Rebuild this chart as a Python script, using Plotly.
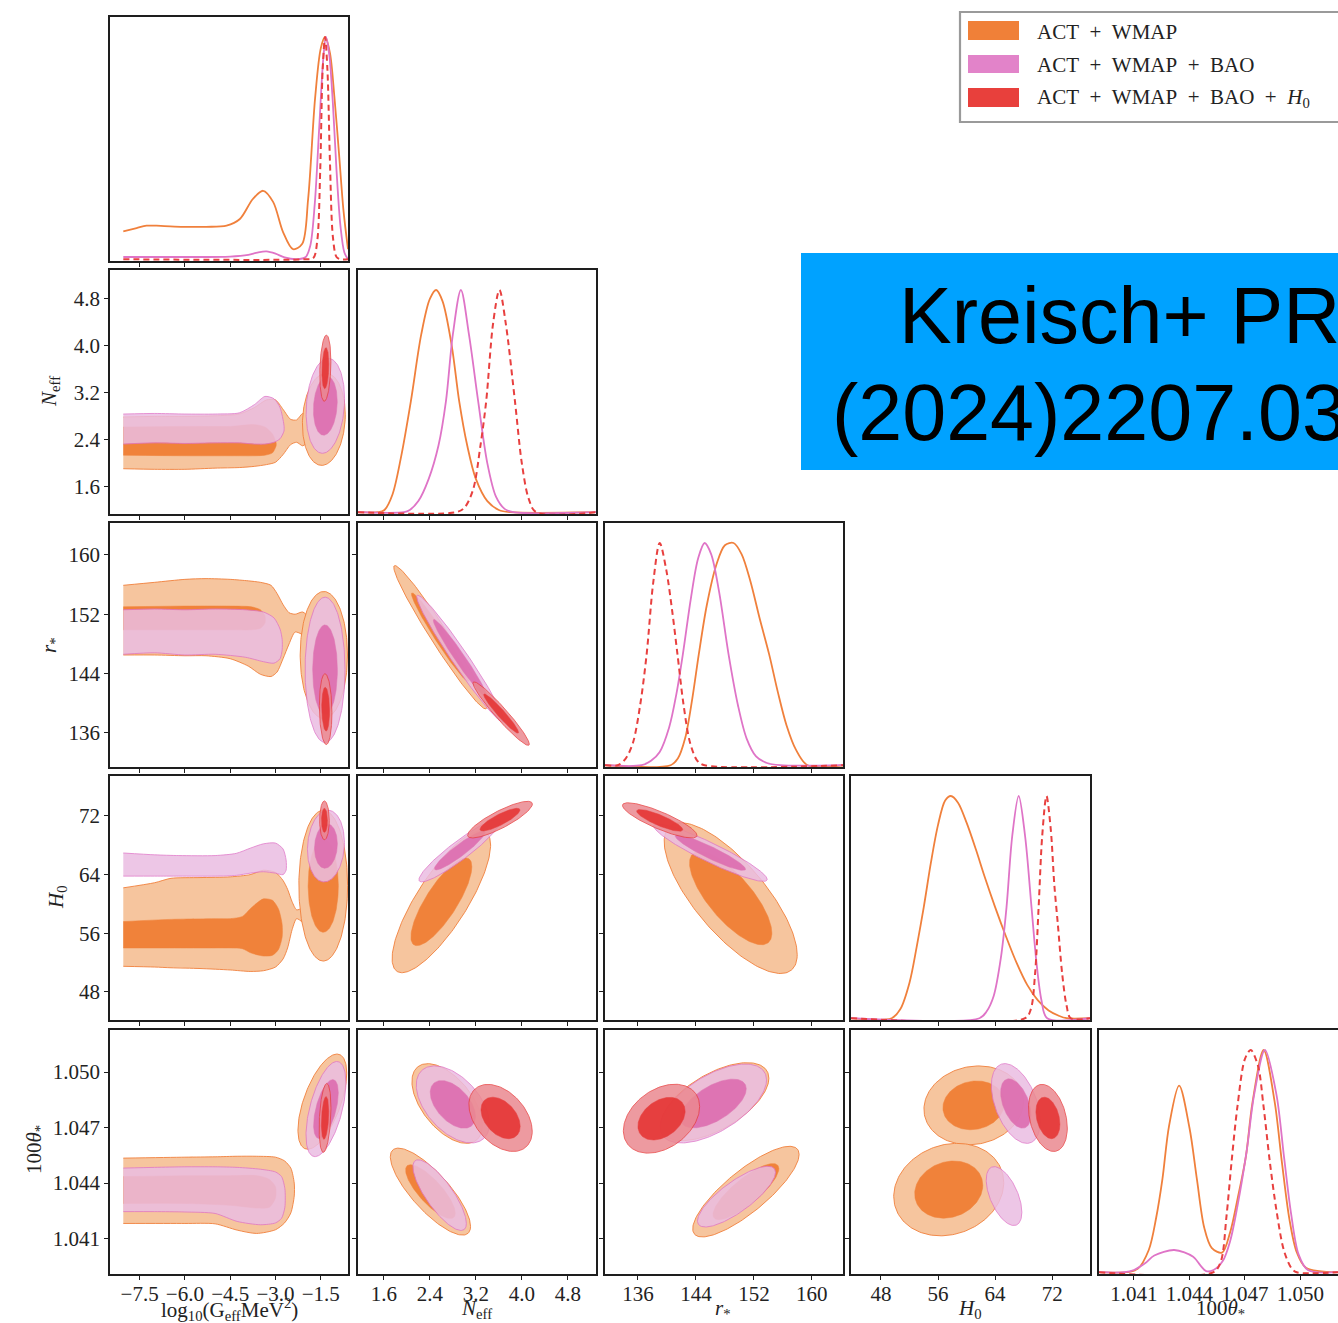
import numpy as np
import plotly.graph_objects as go

# ====================== DATA ======================
# tick values / labels
lgG_ticks = [-7.5, -6.0, -4.5, -3.0, -1.5]
lgG_ticklabels = ['\u22127.5', '\u22126.0', '\u22124.5', '\u22123.0', '\u22121.5']
neff_ticks = [1.6, 2.4, 3.2, 4.0, 4.8]
neff_ticklabels = ['1.6', '2.4', '3.2', '4.0', '4.8']
rs_ticks = [136, 144, 152, 160]
rs_ticklabels = ['136', '144', '152', '160']
h0_ticks = [48, 56, 64, 72]
h0_ticklabels = ['48', '56', '64', '72']
th_ticks = [1.041, 1.044, 1.047, 1.050]
th_ticklabels = ['1.041', '1.044', '1.047', '1.050']

series_names = ['ACT\u2002+\u2002WMAP', 'ACT\u2002+\u2002WMAP\u2002+\u2002BAO',
                'ACT\u2002+\u2002WMAP\u2002+\u2002BAO\u2002+\u2002<i>H</i><sub>0</sub>']

# ---- 1D marginal posteriors (normalised to peak = 1) ----
lgG_x_orange = [-8.04, -7.6, -7.27, -6.8, -6.06, -5.3, -4.62, -4.18, -3.75, -3.41, -3.08, -2.75, -2.42,
                -2.12, -1.92, -1.69, -1.5, -1.36, -1.2, -1.05, -0.9, -0.75, -0.6]
lgG_y_orange = [0.125, 0.14, 0.151, 0.15, 0.146, 0.146, 0.151, 0.181, 0.271, 0.308, 0.258, 0.122, 0.045,
                0.068, 0.271, 0.724, 0.95, 1.0, 0.93, 0.73, 0.48, 0.22, 0.045]
lgG_x_pink = [-8.04, -6.0, -4.5, -3.9, -3.6, -3.3, -3.0, -2.7, -2.3, -2.0, -1.85, -1.7, -1.55, -1.42,
              -1.33, -1.22, -1.1, -0.98, -0.85, -0.72, -0.6]
lgG_y_pink = [0.01, 0.01, 0.012, 0.02, 0.03, 0.035, 0.025, 0.008, 0.0, 0.01, 0.06, 0.25, 0.6, 0.9,
              1.0, 0.92, 0.7, 0.4, 0.15, 0.03, 0.0]
lgG_x_red = [-8.04, -2.0, -1.75, -1.62, -1.52, -1.44, -1.36, -1.28, -1.2, -1.1, -0.98, -0.85, -0.6]
lgG_y_red = [0, 0, 0.005, 0.08, 0.4, 0.85, 1.0, 0.85, 0.45, 0.1, 0.01, 0, 0]

neff_x_orange = [1.15, 1.5, 1.61, 1.75, 1.9, 2.07, 2.25, 2.4, 2.51, 2.62, 2.78, 2.91, 3.05, 3.2, 3.4, 3.6, 3.8, 5.29]
neff_y_orange = [0, 0, 0.01, 0.08, 0.25, 0.5, 0.8, 0.96, 1.0, 0.95, 0.75, 0.5, 0.3, 0.15, 0.05, 0.01, 0, 0]
neff_x_pink = [1.15, 1.95, 2.05, 2.2, 2.38, 2.55, 2.68, 2.8, 2.94, 3.08, 3.24, 3.4, 3.55, 3.7, 3.85, 5.29]
neff_y_pink = [0, 0, 0.01, 0.05, 0.15, 0.3, 0.5, 0.8, 1.0, 0.8, 0.5, 0.22, 0.07, 0.015, 0, 0]
neff_x_red = [1.15, 2.85, 3.0, 3.15, 3.28, 3.38, 3.5, 3.61, 3.72, 3.88, 4.0, 4.12, 4.25, 5.29]
neff_y_red = [0, 0, 0.02, 0.1, 0.3, 0.5, 0.85, 1.0, 0.85, 0.5, 0.22, 0.06, 0, 0]

rs_x_orange = [131.45, 140.5, 141.5, 142.5, 143.5, 144.4, 145.5, 146.8, 148.0, 149.2, 150.3, 151.5, 152.8,
               154.1, 155.3, 156.5, 157.8, 159.4, 164.3]
rs_y_orange = [0, 0, 0.03, 0.12, 0.3, 0.5, 0.72, 0.9, 0.99, 1.0, 0.95, 0.83, 0.66, 0.5, 0.33, 0.18, 0.07, 0.0, 0]
rs_x_pink = [131.45, 136.5, 137.8, 139.0, 140.3, 141.3, 142.2, 143.3, 144.3, 145.2, 146.1, 147.2, 148.5,
             149.8, 151.0, 152.3, 153.8, 155.6, 164.3]
rs_y_pink = [0, 0, 0.02, 0.06, 0.17, 0.32, 0.5, 0.75, 0.93, 1.0, 0.95, 0.78, 0.5, 0.27, 0.12, 0.04, 0.01, 0, 0]
rs_x_red = [131.45, 133.2, 134.3, 135.3, 136.3, 137.2, 138.1, 139.0, 139.9, 140.7, 141.45, 142.3, 143.2,
            144.2, 145.2, 164.3]
rs_y_red = [0, 0, 0.03, 0.1, 0.27, 0.5, 0.82, 1.0, 0.88, 0.7, 0.5, 0.27, 0.1, 0.02, 0, 0]

h0_x_orange = [43.8, 49.5, 50.7, 52.0, 53.0, 54.0, 55.0, 56.0, 57.0, 57.8, 58.8, 60.0, 61.3, 62.5, 64.0,
               65.5, 67.0, 68.5, 70.0, 71.5, 73.0, 74.0, 77.3]
h0_y_orange = [0, 0, 0.04, 0.16, 0.32, 0.5, 0.7, 0.87, 0.98, 1.0, 0.97, 0.88, 0.76, 0.64, 0.5,
               0.37, 0.25, 0.15, 0.08, 0.035, 0.01, 0, 0]
h0_x_pink = [43.8, 61.8, 62.8, 63.8, 64.8, 65.6, 66.4, 67.3, 68.2, 69.1, 69.8, 70.5, 71.3, 77.3]
h0_y_pink = [0, 0, 0.03, 0.1, 0.27, 0.5, 0.82, 1.0, 0.82, 0.5, 0.25, 0.08, 0, 0]
h0_x_red = [43.8, 68.2, 69.0, 69.6, 70.1, 70.6, 71.2, 71.8, 72.3, 72.8, 73.4, 74.0, 74.6, 77.3]
h0_y_red = [0, 0, 0.04, 0.2, 0.5, 0.82, 1.0, 0.85, 0.6, 0.42, 0.2, 0.06, 0, 0]

th_x_orange = [1.03911, 1.0406, 1.0412, 1.0418, 1.0422, 1.04254, 1.0429, 1.04344, 1.0440, 1.0444, 1.0448,
               1.0452, 1.04576, 1.0462, 1.0466, 1.04705, 1.0474, 1.04801, 1.0486, 1.04899, 1.0494,
               1.0498, 1.0503, 1.05203]
th_y_orange = [0, 0, 0.015, 0.1, 0.245, 0.42, 0.66, 0.84, 0.65, 0.42, 0.2, 0.11, 0.088, 0.18, 0.33,
               0.52, 0.76, 1.0, 0.77, 0.5, 0.24, 0.09, 0.02, 0]
th_x_pink = [1.03911, 1.0405, 1.0410, 1.0416, 1.0421, 1.04318, 1.0442, 1.0446, 1.0449, 1.0453, 1.0458,
             1.0462, 1.0466, 1.0471, 1.0475, 1.04808, 1.0487, 1.04911, 1.0495, 1.0499, 1.0504, 1.05203]
th_y_pink = [0, 0, 0.01, 0.04, 0.075, 0.10, 0.07, 0.03, 0.005, 0.01, 0.05, 0.14, 0.3, 0.55, 0.8,
             1.0, 0.8, 0.52, 0.26, 0.08, 0.01, 0]
th_x_red = [1.03911, 1.0453, 1.0457, 1.0460, 1.04628, 1.0466, 1.0470, 1.04731, 1.0477, 1.0480,
            1.04834, 1.0487, 1.0491, 1.0495, 1.0498, 1.05203]
th_y_red = [0, 0, 0.05, 0.25, 0.5, 0.75, 0.96, 1.0, 0.93, 0.75, 0.5, 0.28, 0.1, 0.02, 0, 0]

# ---- 2D posterior islands: (x centre, y centre, x sigma, y sigma, correlation, levels shown) ----
isl_lgG_neff_orange = [(-1.40, 2.75, 0.29, 0.32, 0.10, 1)]
isl_lgG_neff_pink = [(-1.35, 2.98, 0.26, 0.33, 0.15, 2)]
isl_lgG_neff_red = [(-1.35, 3.62, 0.075, 0.23, 0.20, 2)]
isl_lgG_rs_orange = [(-1.40, 146.5, 0.32, 3.5, 0.0, 1)]
isl_lgG_rs_pink = [(-1.36, 144.5, 0.27, 4.0, 0.0, 2)]
isl_lgG_rs_red = [(-1.34, 139.2, 0.085, 1.95, -0.1, 2)]
isl_lgG_h0_orange = [(-1.42, 62.5, 0.33, 4.2, 0.0, 2)]
isl_lgG_h0_pink = [(-1.33, 67.9, 0.25, 2.0, 0.1, 2)]
isl_lgG_h0_red = [(-1.38, 71.4, 0.065, 1.08, 0.0, 2)]
isl_lgG_th_orange = [(-1.45, 1.0484, 0.33, 0.00105, 0.6, 1)]
isl_lgG_th_pink = [(-1.33, 1.0480, 0.27, 0.00105, 0.55, 2)]
isl_lgG_th_red = [(-1.36, 1.04752, 0.08, 0.00076, 0.3, 2)]
isl_neff_rs_orange = [(2.58, 148.9, 0.33, 3.95, -0.975, 2)]
isl_neff_rs_pink = [(2.93, 146.0, 0.31, 3.5, -0.975, 2)]
isl_neff_rs_red = [(3.64, 138.6, 0.20, 1.75, -0.96, 2)]
isl_neff_h0_orange = [(2.60, 60.3, 0.35, 3.95, 0.80, 2)]
isl_neff_h0_pink = [(2.92, 67.3, 0.29, 1.75, 0.93, 2)]
isl_neff_h0_red = [(3.62, 71.5, 0.23, 1.02, 0.85, 2)]
isl_rs_h0_orange = [(148.8, 60.8, 3.75, 4.2, -0.75, 2)]
isl_rs_h0_pink = [(146.0, 67.0, 3.2, 1.6, -0.93, 2)]
isl_rs_h0_red = [(139.0, 71.4, 2.1, 0.98, -0.85, 2)]
isl_neff_th_orange = [(2.70, 1.0483, 0.25, 0.00088, -0.55, 1), (2.41, 1.04354, 0.285, 0.00096, -0.80, 2)]
isl_neff_th_pink = [(2.80, 1.04825, 0.26, 0.00085, -0.50, 2), (2.57, 1.04335, 0.19, 0.00078, -0.80, 1)]
isl_neff_th_red = [(3.63, 1.04752, 0.225, 0.00074, -0.40, 2)]
isl_rs_th_orange = [(146.6, 1.0484, 3.05, 0.00086, 0.6, 1), (150.9, 1.04354, 3.0, 0.0010, 0.82, 2)]
isl_rs_th_pink = [(146.4, 1.0483, 3.0, 0.00087, 0.6, 2), (149.6, 1.04327, 2.2, 0.00067, 0.8, 1)]
isl_rs_th_red = [(139.25, 1.04748, 2.15, 0.00076, 0.35, 2)]
isl_h0_th_orange = [(61.0, 1.0482, 2.85, 0.00087, 0.1, 2), (57.5, 1.04365, 3.15, 0.00102, 0.15, 2)]
isl_h0_th_pink = [(66.9, 1.0483, 1.4, 0.00088, -0.45, 2), (65.25, 1.0433, 1.02, 0.00065, -0.55, 1)]
isl_h0_th_red = [(71.4, 1.04752, 1.11, 0.00074, -0.3, 2)]

# ---- plateau (weakly-interacting mode) bands in log10 G_eff panels: stations, lower, upper ----
band_lgG_neff_o95_x = [-8.04, -7.0, -6.0, -5.0, -4.2, -3.7, -3.3, -3.0, -2.75, -2.5, -2.3, -2.1, -1.9]
band_lgG_neff_o95_lo = [1.91, 1.90, 1.90, 1.92, 1.93, 1.95, 1.98, 2.02, 2.15, 2.32, 2.36, 2.30, 2.40]
band_lgG_neff_o95_hi = [2.79, 2.80, 2.80, 2.81, 2.84, 2.95, 3.08, 3.08, 2.92, 2.75, 2.74, 2.85, 2.80]
band_lgG_neff_o68_x = [-8.04, -6.0, -4.5, -3.7, -3.35, -3.1, -2.98]
band_lgG_neff_o68_lo = [2.14, 2.13, 2.13, 2.13, 2.14, 2.18, 2.30]
band_lgG_neff_o68_hi = [2.62, 2.63, 2.63, 2.66, 2.62, 2.50, 2.35]
band_lgG_neff_p95_x = [-8.04, -7.0, -6.0, -5.0, -4.2, -3.7, -3.35, -3.05, -2.85, -2.72]
band_lgG_neff_p95_lo = [2.33, 2.35, 2.34, 2.35, 2.35, 2.33, 2.33, 2.36, 2.42, 2.55]
band_lgG_neff_p95_hi = [2.84, 2.85, 2.84, 2.84, 2.86, 3.00, 3.14, 3.10, 2.95, 2.65]

band_lgG_rs_o95_x = [-8.04, -7.0, -6.0, -5.3, -4.5, -3.9, -3.5, -3.15, -2.95, -2.75, -2.55, -2.35, -2.1, -1.9]
band_lgG_rs_o95_lo = [146.5, 146.5, 146.4, 146.4, 146.0, 145.0, 143.9, 143.6, 144.2, 146.0, 148.0, 149.6, 149.2, 148.0]
band_lgG_rs_o95_hi = [155.9, 156.3, 156.7, 156.8, 156.7, 156.5, 156.3, 155.9, 154.8, 153.3, 152.2, 152.0, 152.3, 151.5]
band_lgG_rs_o68_x = [-8.04, -6.0, -4.5, -3.8, -3.5, -3.35]
band_lgG_rs_o68_lo = [149.9, 149.9, 149.9, 149.9, 150.1, 150.8]
band_lgG_rs_o68_hi = [153.0, 153.1, 153.1, 153.0, 152.6, 151.8]
band_lgG_rs_p95_x = [-8.04, -7.0, -6.0, -5.0, -4.0, -3.4, -3.05, -2.85, -2.78]
band_lgG_rs_p95_lo = [146.6, 146.8, 146.5, 146.6, 146.2, 145.6, 145.4, 146.0, 147.2]
band_lgG_rs_p95_hi = [152.6, 152.7, 152.6, 152.7, 152.6, 152.3, 151.5, 150.0, 148.6]

band_lgG_h0_o95_x = [-8.04, -7.0, -6.46, -5.5, -4.5, -3.84, -3.4, -3.0, -2.75, -2.6, -2.45, -2.3, -2.1, -1.9]
band_lgG_h0_o95_lo = [51.5, 51.4, 51.3, 51.2, 51.0, 50.8, 50.9, 51.4, 52.5, 54.0, 56.5, 58.0, 57.5, 57.0]
band_lgG_h0_o95_hi = [62.2, 62.9, 63.5, 63.6, 63.7, 64.0, 64.6, 64.3, 63.2, 62.0, 60.3, 59.2, 59.5, 60.5]
band_lgG_h0_o68_x = [-8.04, -6.5, -5.0, -4.5, -4.1, -3.8, -3.4, -3.1, -2.9, -2.78]
band_lgG_h0_o68_lo = [54.0, 54.0, 54.0, 54.0, 53.9, 53.3, 52.9, 53.0, 53.8, 55.5]
band_lgG_h0_o68_hi = [57.6, 57.9, 58.0, 58.0, 58.3, 59.5, 60.7, 60.5, 59.3, 57.2]
band_lgG_h0_p95_x = [-8.04, -7.0, -6.2, -5.0, -4.3, -3.84, -3.4, -3.0, -2.75, -2.65]
band_lgG_h0_p95_lo = [63.8, 63.8, 63.8, 63.8, 63.9, 64.2, 64.4, 64.2, 64.0, 64.6]
band_lgG_h0_p95_hi = [66.95, 66.7, 66.6, 66.6, 66.9, 67.6, 68.2, 68.3, 67.5, 66.0]

band_lgG_th_o95_x = [-8.04, -6.0, -5.0, -4.27, -3.63, -3.0, -2.7, -2.49, -2.38]
band_lgG_th_o95_lo = [1.04182, 1.04182, 1.0418, 1.04146, 1.04128, 1.04148, 1.04185, 1.0424, 1.0433]
band_lgG_th_o95_hi = [1.04535, 1.0454, 1.04542, 1.04545, 1.04545, 1.0454, 1.0452, 1.0448, 1.0440]
band_lgG_th_o68_x = [-8.04, -6.0, -4.5, -3.6, -3.2, -3.0]
band_lgG_th_o68_lo = [1.0429, 1.0429, 1.0428, 1.04265, 1.0427, 1.0432]
band_lgG_th_o68_hi = [1.04435, 1.0444, 1.0444, 1.0444, 1.0442, 1.0438]
band_lgG_th_p95_x = [-8.04, -7.0, -6.0, -5.0, -4.27, -3.5, -3.0, -2.8, -2.69]
band_lgG_th_p95_lo = [1.04246, 1.04246, 1.04244, 1.04236, 1.04193, 1.04175, 1.04185, 1.0421, 1.0427]
band_lgG_th_p95_hi = [1.04481, 1.04485, 1.04488, 1.04488, 1.04485, 1.04475, 1.0446, 1.04435, 1.0437]

# ====================== LAYOUT / STYLE ======================
W, H = 1338, 1323
col_px = [(110, 348), (358, 596), (605, 843), (851, 1090), (1099, 1338)]
row_px = [(17, 261), (270, 514), (523, 767), (776, 1020), (1030, 1274)]
x_ranges = [[-8.48, -0.6], [1.15, 5.29], [131.45, 164.3], [43.8, 77.3], [1.03911, 1.05203]]
y_ranges = [None, [1.14, 5.29], [131.4, 164.3], [44.18, 77.45], [1.03909, 1.05227]]
tickset = [(lgG_ticks, lgG_ticklabels), (neff_ticks, neff_ticklabels), (rs_ticks, rs_ticklabels),
           (h0_ticks, h0_ticklabels), (th_ticks, th_ticklabels)]

STY = {
    'orange': dict(light='#F6C59E', dark='#F0823A', line='#F0803C', op=1.0),
    'pink': dict(light='#EBBDE2', dark='#DC68AD', line='#DF74C7', op=0.85),
    'red': dict(light='#EB8990', dark='#E5302F', line='#E8403F', op=0.85),
}
K68, K95 = 1.515, 2.448
SERIF = 'Liberation Serif'
AXC = '#1e1e1e'
TICKFONT = dict(family=SERIF, size=21, color='#222')


def px(x):
    return x / W


def py(y):
    return 1 - y / H


fig = go.Figure()
panels = [(i, j) for i in range(5) for j in range(i + 1)]
pidx = {p: n + 1 for n, p in enumerate(panels)}


def refs(k):
    return ('x' if k == 1 else f'x{k}'), ('y' if k == 1 else f'y{k}')


layout_axes = {}
for (i, j), k in pidx.items():
    xn = 'xaxis' if k == 1 else f'xaxis{k}'
    yn = 'yaxis' if k == 1 else f'yaxis{k}'
    xr, yr = refs(k)
    tv, tt = tickset[j]
    xa = dict(domain=[px(col_px[j][0]), px(col_px[j][1])], range=x_ranges[j], anchor=yr,
              showgrid=False, zeroline=False, showline=True, linecolor=AXC, linewidth=1.7, mirror=True,
              tickmode='array', tickvals=tv, ticktext=tt, ticks='outside', ticklen=4, tickwidth=1.2,
              tickcolor=AXC, showticklabels=(i == 4), tickangle=0, ticklabelstandoff=-4,
              tickfont=TICKFONT, fixedrange=True)
    ya = dict(domain=[py(row_px[i][1]), py(row_px[i][0])], anchor=xr, showgrid=False, zeroline=False,
              showline=True, linecolor=AXC, linewidth=1.7, mirror=(j != 4), fixedrange=True)
    if i == j:
        ya.update(range=[-0.008, 1.09], ticks='', showticklabels=False)
    else:
        tvy, tty = tickset[i]
        ya.update(range=y_ranges[i], tickmode='array', tickvals=tvy, ticktext=tty, ticks='outside',
                  ticklen=4, tickwidth=1.2, tickcolor=AXC, showticklabels=(j == 0),
                  tickfont=TICKFONT)
    layout_axes[xn] = xa
    layout_axes[yn] = ya


def ellipse(c, kk):
    cx, cy, sx, sy, rho = c[:5]
    t = np.linspace(0, 2 * np.pi, 181)
    x = cx + kk * sx * np.cos(t)
    y = cy + kk * sy * (rho * np.cos(t) + np.sqrt(1 - rho ** 2) * np.sin(t))
    return x, y


def add_fill(k, x, y, fillc, linec, op, lw, spline=False):
    xr, yr = refs(k)
    fig.add_trace(go.Scatter(x=list(x), y=list(y), mode='lines', fill='toself', fillcolor=fillc,
                             line=dict(color=linec, width=lw, shape='spline' if spline else 'linear',
                                       smoothing=0.7),
                             opacity=op, xaxis=xr, yaxis=yr, hoverinfo='skip', showlegend=False))


def add_band(k, b, fillc, linec, op, lw):
    xs, lo, hi = b
    add_fill(k, list(xs) + list(xs)[::-1], list(hi) + list(lo)[::-1], fillc, linec, op, lw, spline=True)


panel2d = {
    (1, 0): dict(orange=isl_lgG_neff_orange, pink=isl_lgG_neff_pink, red=isl_lgG_neff_red,
                 o95=(band_lgG_neff_o95_x, band_lgG_neff_o95_lo, band_lgG_neff_o95_hi),
                 o68=(band_lgG_neff_o68_x, band_lgG_neff_o68_lo, band_lgG_neff_o68_hi),
                 p95=(band_lgG_neff_p95_x, band_lgG_neff_p95_lo, band_lgG_neff_p95_hi)),
    (2, 0): dict(orange=isl_lgG_rs_orange, pink=isl_lgG_rs_pink, red=isl_lgG_rs_red,
                 o95=(band_lgG_rs_o95_x, band_lgG_rs_o95_lo, band_lgG_rs_o95_hi),
                 o68=(band_lgG_rs_o68_x, band_lgG_rs_o68_lo, band_lgG_rs_o68_hi),
                 p95=(band_lgG_rs_p95_x, band_lgG_rs_p95_lo, band_lgG_rs_p95_hi)),
    (3, 0): dict(orange=isl_lgG_h0_orange, pink=isl_lgG_h0_pink, red=isl_lgG_h0_red,
                 o95=(band_lgG_h0_o95_x, band_lgG_h0_o95_lo, band_lgG_h0_o95_hi),
                 o68=(band_lgG_h0_o68_x, band_lgG_h0_o68_lo, band_lgG_h0_o68_hi),
                 p95=(band_lgG_h0_p95_x, band_lgG_h0_p95_lo, band_lgG_h0_p95_hi)),
    (4, 0): dict(orange=isl_lgG_th_orange, pink=isl_lgG_th_pink, red=isl_lgG_th_red,
                 o95=(band_lgG_th_o95_x, band_lgG_th_o95_lo, band_lgG_th_o95_hi),
                 o68=(band_lgG_th_o68_x, band_lgG_th_o68_lo, band_lgG_th_o68_hi),
                 p95=(band_lgG_th_p95_x, band_lgG_th_p95_lo, band_lgG_th_p95_hi)),
    (2, 1): dict(orange=isl_neff_rs_orange, pink=isl_neff_rs_pink, red=isl_neff_rs_red),
    (3, 1): dict(orange=isl_neff_h0_orange, pink=isl_neff_h0_pink, red=isl_neff_h0_red),
    (4, 1): dict(orange=isl_neff_th_orange, pink=isl_neff_th_pink, red=isl_neff_th_red),
    (3, 2): dict(orange=isl_rs_h0_orange, pink=isl_rs_h0_pink, red=isl_rs_h0_red),
    (4, 2): dict(orange=isl_rs_th_orange, pink=isl_rs_th_pink, red=isl_rs_th_red),
    (4, 3): dict(orange=isl_h0_th_orange, pink=isl_h0_th_pink, red=isl_h0_th_red),
}

for (i, j), spec in panel2d.items():
    k = pidx[(i, j)]
    for ds, tag in (('orange', 'o'), ('pink', 'p'), ('red', 'r')):
        s = STY[ds]
        # 95% (light) level
        if tag + '95' in spec:
            add_band(k, spec[tag + '95'], s['light'], s['line'], s['op'], 0.9)
        for c in spec[ds]:
            x, y = ellipse(c, K95)
            add_fill(k, x, y, s['light'], s['line'], s['op'], 0.9)
        # 68% (dark) level
        if tag + '68' in spec:
            add_band(k, spec[tag + '68'], s['dark'], s['dark'], s['op'], 0.5)
        for c in spec[ds]:
            if c[5] >= 2:
                x, y = ellipse(c, K68)
                add_fill(k, x, y, s['dark'], s['dark'], s['op'], 0.5)

# 1D marginals
one_d = [
    [(lgG_x_orange, lgG_y_orange), (lgG_x_pink, lgG_y_pink), (lgG_x_red, lgG_y_red)],
    [(neff_x_orange, neff_y_orange), (neff_x_pink, neff_y_pink), (neff_x_red, neff_y_red)],
    [(rs_x_orange, rs_y_orange), (rs_x_pink, rs_y_pink), (rs_x_red, rs_y_red)],
    [(h0_x_orange, h0_y_orange), (h0_x_pink, h0_y_pink), (h0_x_red, h0_y_red)],
    [(th_x_orange, th_y_orange), (th_x_pink, th_y_pink), (th_x_red, th_y_red)],
]
for d in range(5):
    k = pidx[(d, d)]
    xr, yr = refs(k)
    for (xs, ys), ds in zip(one_d[d], ('orange', 'pink', 'red')):
        dash = '6px,4px' if ds == 'red' else None
        wid = 2.0 if ds == 'red' else 1.8
        fig.add_trace(go.Scatter(x=xs, y=ys, mode='lines',
                                 line=dict(color=STY[ds]['line'], width=wid, dash=dash, shape='spline',
                                           smoothing=0.9),
                                 xaxis=xr, yaxis=yr, hoverinfo='skip', showlegend=False))

# ---------------- annotations: axis labels ----------------
ann = []
xlabels = [('log<sub>10</sub>(G<sub>eff</sub>MeV<sup>2</sup>)', 229), ('<i>N</i><sub>eff</sub>', 477),
           ('<i>r</i><sub>*</sub>', 723), ('<i>H</i><sub>0</sub>', 970), ('100<i>θ</i><sub>*</sub>', 1220)]
for txt, xc in xlabels:
    ann.append(dict(text=txt, x=px(xc), y=py(1309), xref='paper', yref='paper', xanchor='center',
                    yanchor='middle', showarrow=False, font=dict(family=SERIF, size=21, color='#222')))
ylabels = [('<i>N</i><sub>eff</sub>', 50, 392), ('<i>r</i><sub>*</sub>', 50, 645),
           ('<i>H</i><sub>0</sub>', 57, 897), ('100<i>θ</i><sub>*</sub>', 35, 1150)]
for txt, xc, yc in ylabels:
    ann.append(dict(text=txt, x=px(xc), y=py(yc), xref='paper', yref='paper', xanchor='center',
                    yanchor='middle', showarrow=False, textangle=-90,
                    font=dict(family=SERIF, size=21, color='#222')))

# ---------------- legend (drawn manually) ----------------
shapes = []
shapes.append(dict(type='rect', xref='paper', yref='paper', x0=px(960), x1=1.02, y0=py(122), y1=py(12),
                   line=dict(color='#9a9a9a', width=2.2), fillcolor='white', layer='above'))
legend_patch = ['#F08038', '#E283C9', '#E8403C']
patch_rows = [(21, 40), (55, 73), (88, 107)]
text_rows = [32, 65, 98]
for col, (y0, y1), ty, name in zip(legend_patch, patch_rows, text_rows, series_names):
    shapes.append(dict(type='rect', xref='paper', yref='paper', x0=px(968), x1=px(1019), y0=py(y1),
                       y1=py(y0), line=dict(width=0), fillcolor=col, layer='above'))
    ann.append(dict(text=name, x=px(1035), y=py(ty), xref='paper', yref='paper', xanchor='left',
                    yanchor='middle', showarrow=False, font=dict(family=SERIF, size=21, color='#222')))

# ---------------- blue citation box ----------------
shapes.append(dict(type='rect', xref='paper', yref='paper', x0=px(801), x1=1.3, y0=py(470), y1=py(253),
                   line=dict(width=0), fillcolor='#00A2FF', layer='above'))
ann.append(dict(text='Kreisch+ PRD', x=px(897), y=py(315), xref='paper', yref='paper', xanchor='left',
                yanchor='middle', showarrow=False, font=dict(family='Liberation Sans', size=79, color='black')))
ann.append(dict(text='(2024)2207.03164', x=px(830), y=py(413), xref='paper', yref='paper', xanchor='left',
                yanchor='middle', showarrow=False, font=dict(family='Liberation Sans', size=79, color='black')))

fig.update_layout(width=W, height=H, margin=dict(l=0, r=0, t=0, b=0), paper_bgcolor='white',
                  plot_bgcolor='white', showlegend=False, annotations=ann, shapes=shapes,
                  font=dict(family=SERIF, size=20, color='#222'), **layout_axes)

fig.write_html('out.html')
